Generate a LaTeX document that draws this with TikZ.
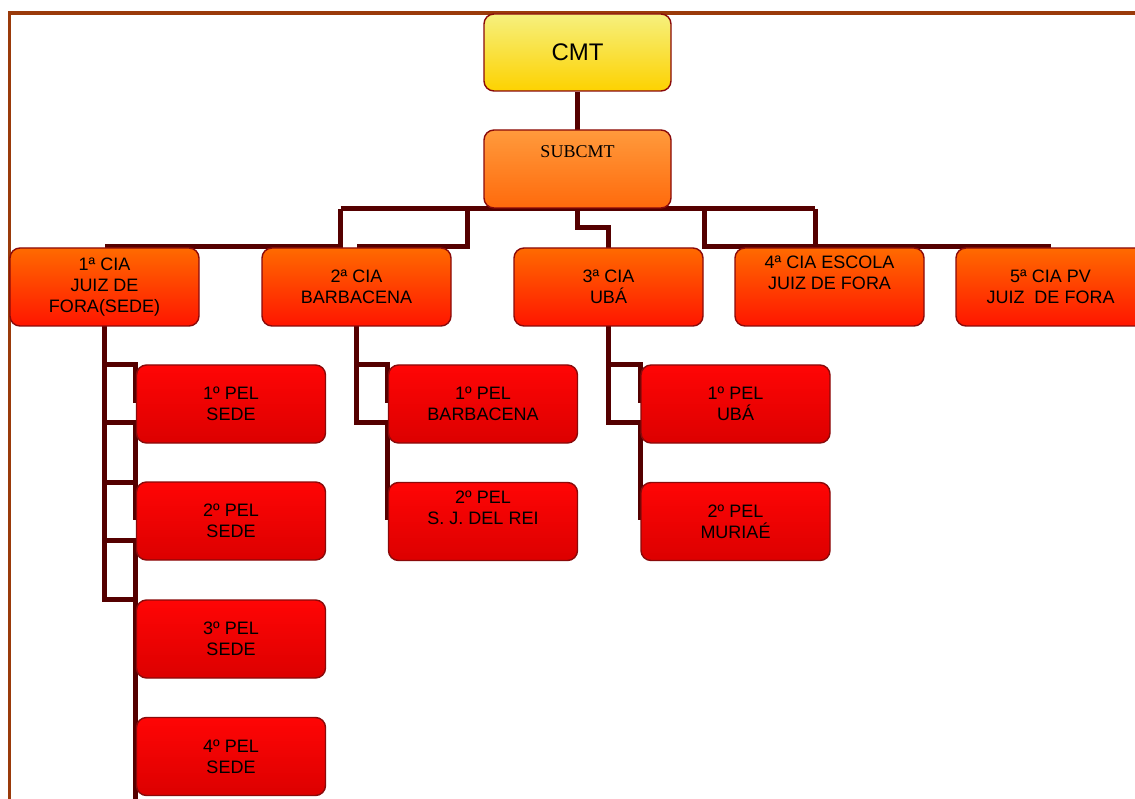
\documentclass[tikz,border=0pt]{standalone}
\usepackage{fontspec}
\setmainfont{Liberation Sans}
\newfontfamily\serifface{Liberation Serif}
\definecolor{boxline}{HTML}{8A0A0A}
\definecolor{connc}{HTML}{550000}
\definecolor{framec}{HTML}{9A3A0A}
\definecolor{cmttop}{HTML}{F6F07E}
\definecolor{cmtbot}{HTML}{FDD200}
\definecolor{subtop}{HTML}{FF9A3C}
\definecolor{subbot}{HTML}{FF6A0C}
\definecolor{ciatop}{HTML}{FF6A00}
\definecolor{ciabot}{HTML}{FF1500}
\definecolor{peltop}{HTML}{FF0505}
\definecolor{pelbot}{HTML}{DC0000}
\begin{document}
\begin{tikzpicture}[x=1pt,y=-1pt,
  box/.style={draw=boxline, line width=1.4pt, rounded corners=10pt,
    minimum width=189pt, minimum height=78pt, inner sep=0pt, align=center,
    font=\fontsize{18}{21}\selectfont},
  ciabox/.style={box, top color=ciatop, bottom color=ciabot},
  pelbox/.style={box, top color=peltop, bottom color=pelbot},
  lbl/.style={inner sep=0pt, align=center, font=\fontsize{18}{21}\selectfont},
  conn/.style={draw=connc, line width=5pt},
  frameline/.style={draw=framec, line width=3.5pt}]
\useasboundingbox (0,0) rectangle (1135,799);
\fill[white] (0,0) rectangle (1135,799);

% frame
\coordinate (fr1) at (1135,13);
\coordinate (fr2) at (9.5,13);
\coordinate (fr3) at (9.5,799);
\draw[frameline] (fr1) -- (fr2) -- (fr3);

% node positions
\coordinate (pcmt) at (577.5,52.5);
\coordinate (psub) at (577.5,169);

% bus coordinates
\coordinate (b1) at (340.5,209);
\coordinate (b2) at (467,209);
\coordinate (b4) at (704,209);
\coordinate (b5) at (815,209);
\coordinate (k1) at (104.5,246.5);
\coordinate (k2) at (357,247);
\coordinate (k3) at (1051,246.5);

\node[box, minimum width=187pt, minimum height=77pt, top color=cmttop, bottom color=cmtbot,
  font=\fontsize{24}{28}\selectfont] (cmt) at (pcmt) {CMT};
\draw[conn] (cmt.south) -- (577.5,130);
\draw[conn] (b1) -- (b5);
\draw[conn] (b1) |- (k1);
\draw[conn] (b2) |- (k2);
\draw[conn] (577.5,208) -- (577.5,228) -| (608.5,248);
\draw[conn] (b4) |- (k3);
\draw[conn] (b5) -- (b5 |- k3);

% left column connectors
\draw[conn] (104.5,326) |- (135,599.5);
\draw[conn] (104.5,365) -| (135,403);
\draw[conn] (104.5,422) -| (135,520);
\draw[conn] (104.5,482) -- (135,482);
\draw[conn] (104.5,540.5) -| (135,799);

% middle connectors
\draw[conn] (356.5,326) -- (356.5,425);
\draw[conn] (356.5,364.5) -| (387.5,403);
\draw[conn] (356.5,422.5) -| (387.5,520);

% right connectors
\draw[conn] (608.5,326) -- (608.5,425);
\draw[conn] (608.5,364.5) -| (640.5,403);
\draw[conn] (608.5,422.5) -| (640.5,520);

% boxes
\node[box, minimum width=187pt, top color=subtop, bottom color=subbot] (sub) at (psub) {};
\node[lbl, font=\serifface\fontsize{18}{21}\selectfont] (subt) at (577.5,152) {SUBCMT};

\node[ciabox] (cia1) at (104.5,287) {1ª CIA\\JUIZ DE\\FORA(SEDE)};
\node[ciabox] (cia2) at (356.5,287) {2ª CIA\\BARBACENA};
\node[ciabox] (cia3) at (608.5,287) {3ª CIA\\UBÁ};
\node[ciabox] (cia4) at (829.5,287) {};
\node[lbl] (cia4t) at (829.5,272.5) {4ª CIA ESCOLA\\JUIZ DE FORA};
\node[ciabox] (cia5) at (1050.5,287) {5ª CIA PV\\JUIZ\ \ DE FORA};

\node[pelbox] (p11) at (231,404) {1º PEL\\SEDE};
\node[pelbox] (p12) at (231,521) {2º PEL\\SEDE};
\node[pelbox] (p13) at (231,639) {3º PEL\\SEDE};
\node[pelbox] (p14) at (231,756.5) {4º PEL\\SEDE};

\node[pelbox] (p21) at (483,404) {1º PEL\\BARBACENA};
\node[pelbox] (p22) at (483,521.5) {};
\node[lbl] (p22t) at (483,507.5) {2º PEL\\S. J. DEL REI};

\node[pelbox] (p31) at (735.5,404) {1º PEL\\UBÁ};
\node[pelbox] (p32) at (735.5,521.5) {2º PEL\\MURIAÉ};
\end{tikzpicture}
\end{document}
